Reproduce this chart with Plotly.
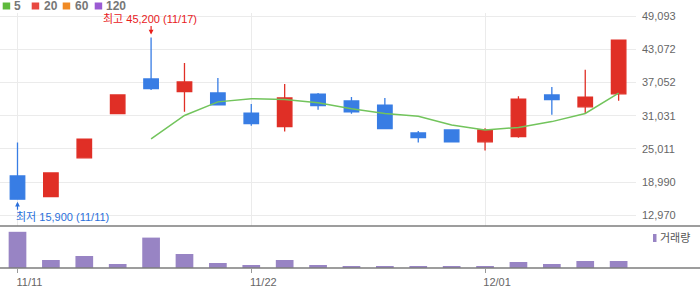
import plotly.graph_objects as go

# ---- data ----
dates = ["11/11", "11/14", "11/15", "11/16", "11/17", "11/18", "11/21", "11/22",
         "11/23", "11/24", "11/25", "11/28", "11/29", "11/30", "12/01", "12/02",
         "12/05", "12/06", "12/07"]
opens  = [20100, 16350, 23400, 31400, 37700, 35400, 35150, 31500, 29050, 34950,
          33700, 32950, 27900, 28450, 26300, 27250, 34800, 32650, 35000]
highs  = [26150, 20650, 26800, 34800, 45200, 40600, 37850, 33150, 36800, 35150,
          34400, 34250, 28250, 28450, 28750, 34550, 36250, 39350, 44750]
lows   = [15900, 16350, 23400, 31400, 35700, 31750, 33000, 29200, 28150, 32100,
          31400, 28700, 26150, 26150, 24700, 27050, 31200, 31500, 33750]
closes = [15900, 20650, 26800, 34800, 35950, 37150, 33000, 29600, 34250, 32850,
          31750, 28700, 27050, 26300, 28450, 34050, 33950, 34400, 44750]
ma5_dates = dates[4:]
ma5_vals = [26820, 31070, 33540, 34100, 33990, 33370, 32290, 31430, 30920, 29330,
            28450, 28910, 29960, 31430, 35120]
volumes = [1810000, 400000, 600000, 200000, 1520000, 700000, 250000, 150000, 400000,
           150000, 60000, 100000, 100000, 70000, 100000, 300000, 200000, 350000, 350000]
price_ticks = [12970, 18990, 25011, 31031, 37052, 43072, 49093]
x_ticks = ["11/11", "11/22", "12/01"]
legend_items = ["5", "20", "60", "120"]
legend_colors = ["#5fba3c", "#e84840", "#f08a24", "#9b5bd3"]

RED = "#e02f26"
BLUE = "#387de4"
VOL = "#9884c4"
GRID = "#ebebeb"
FONT = "Liberation Sans, Noto Sans CJK KR, sans-serif"

W, H = 700, 289
ML, MR, MT, MB = 0, 64, 13, 21
PW, PH = W - ML - MR, H - MT - MB


def px(x):
    return (x - ML) / PW


def py(y):
    return (H - MB - y) / PH


vol_top = py(226)

fig = go.Figure()

fig.add_trace(go.Scatter(
    x=ma5_dates, y=ma5_vals, mode="lines",
    line=dict(color="#72c45c", width=1.5), xaxis="x", yaxis="y",
    showlegend=False, hoverinfo="skip"))

fig.add_trace(go.Candlestick(
    x=dates, open=opens, high=highs, low=lows, close=closes,
    increasing=dict(line=dict(color=RED, width=1.3), fillcolor=RED),
    decreasing=dict(line=dict(color=BLUE, width=1.3), fillcolor=BLUE),
    whiskerwidth=0, xaxis="x", yaxis="y", showlegend=False))

fig.add_trace(go.Bar(
    x=dates, y=volumes, marker=dict(color=VOL, line=dict(width=0)),
    width=0.53, xaxis="x2", yaxis="y2", showlegend=False))

fig.update_layout(
    width=W, height=H,
    margin=dict(l=ML, r=MR, t=MT, b=MB),
    paper_bgcolor="white", plot_bgcolor="white",
    font=dict(family=FONT, size=11, color="#666666"),
    boxgap=0.38,
    xaxis=dict(
        type="category", categoryorder="array", categoryarray=dates,
        range=[-0.524, 18.52], domain=[0, 1], anchor="y",
        showticklabels=False, ticks="", tickmode="array", tickvals=x_ticks,
        showgrid=True, gridcolor=GRID, gridwidth=1, zeroline=False,
        showline=False, rangeslider=dict(visible=False), matches="x2"),
    yaxis=dict(
        domain=[vol_top, 1], range=[11030, 49655], side="right",
        tickmode="array", tickvals=price_ticks,
        ticktext=[f"{v:,}" for v in price_ticks],
        ticks="", ticklabelstandoff=5,
        showgrid=True, gridcolor=GRID, gridwidth=1, zeroline=False,
        showline=False, tickfont=dict(size=11, color="#666666")),
    xaxis2=dict(
        type="category", categoryorder="array", categoryarray=dates,
        range=[-0.524, 18.52], domain=[0, 1], anchor="y2",
        tickmode="array", tickvals=x_ticks, ticks="outside", ticklen=4,
        tickcolor="#999999", tickwidth=1, ticklabelshift=12,
        showgrid=False, zeroline=False, showline=False,
        tickfont=dict(size=11, color="#666666")),
    yaxis2=dict(
        domain=[0, vol_top], range=[0, 2100000], showticklabels=False,
        ticks="", showgrid=False, zeroline=False, showline=False),
    showlegend=False,
)

shapes = []
# panel separator lines (extend into the right margin)
for yy in (226, 268):
    shapes.append(dict(type="line", xref="paper", yref="paper",
                       x0=px(0), x1=px(W), y0=py(yy), y1=py(yy),
                       line=dict(color="#7d7d7d", width=1.5)))
# top legend squares
sq_x = [2.7, 31.7, 62.7, 94.7]
for sx, col in zip(sq_x, legend_colors):
    shapes.append(dict(type="rect", xref="paper", yref="paper",
                       x0=px(sx), x1=px(sx + 7.5), y0=py(9.5), y1=py(2.5),
                       fillcolor=col, line=dict(width=0)))
# volume legend marker
shapes.append(dict(type="rect", xref="paper", yref="paper",
                   x0=px(653), x1=px(656.5), y0=py(242), y1=py(234),
                   fillcolor=VOL, line=dict(width=0)))
fig.update_layout(shapes=shapes)

ann = []
txt_x = [12, 41.5, 72.5, 104]
for tx, lab in zip(txt_x, legend_items):
    ann.append(dict(xref="paper", yref="paper", x=px(tx), y=py(6),
                    text=f"<b>{lab}</b>", showarrow=False, xanchor="left",
                    yanchor="middle", font=dict(size=12, color="#777777")))
ann.append(dict(xref="paper", yref="paper", x=px(658), y=py(238),
                text="거래량", showarrow=False, xanchor="left", yanchor="middle",
                font=dict(size=11, color="#555555")))
# max annotation
ann.append(dict(xref="x", yref="y", x=dates[4], y=highs[4], text="",
                showarrow=True, ax=0, ay=-12, standoff=3, arrowhead=2,
                arrowsize=0.8, arrowwidth=1.2, arrowcolor="#e8201c",
                font=dict(size=1), borderpad=0))
ann.append(dict(xref="x", yref="y", x=dates[4], y=highs[4],
                text=f"최고 {max(highs):,} ({dates[4]})", showarrow=False,
                xanchor="center", yanchor="middle", xshift=-1.5, yshift=18.6,
                font=dict(size=11, color="#e8201c")))
# min annotation
ann.append(dict(xref="x", yref="y", x=dates[0], y=lows[0], text="",
                showarrow=True, ax=0, ay=11, standoff=2.5, arrowhead=2,
                arrowsize=0.8, arrowwidth=1.2, arrowcolor="#2a6fdb",
                font=dict(size=1), borderpad=0))
ann.append(dict(xref="x", yref="y", x=dates[0], y=lows[0],
                text=f"최저 {min(lows):,} ({dates[0]})", showarrow=False,
                xanchor="left", yanchor="middle", xshift=-3.5, yshift=-18,
                font=dict(size=11, color="#2a6fdb")))
fig.update_layout(annotations=ann)

fig.write_html("out.html")
